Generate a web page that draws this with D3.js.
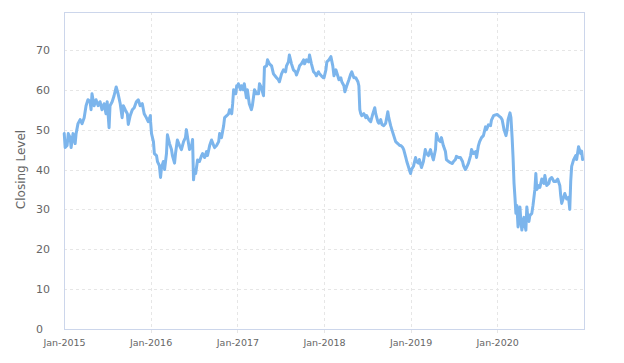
<!DOCTYPE html>
<html>
<head>
<meta charset="utf-8">
<script src="https://cdn.jsdelivr.net/npm/d3@7"></script>
<style>
  html, body { margin: 0; padding: 0; background: #fff; }
  svg { display: block; font-family: "DejaVu Sans", sans-serif; }
</style>
</head>
<body>
<svg id="chart" width="624" height="363"></svg>
<script>
// ---- data ----
const yAxisTitle = "Closing Level";
const yTicks = [0, 10, 20, 30, 40, 50, 60, 70];
const xTickYears = [2015, 2016, 2017, 2018, 2019, 2020];

const dates2015 = ["01-02","01-06","01-14","01-19","01-27","01-31","02-08","02-17","02-21","03-01","03-10","03-18","03-27","04-04","04-12","04-21","04-25","04-29","05-08","05-16","05-25","06-02","06-10","06-19","06-27","07-02","07-10","07-14","07-23","07-31","08-09","08-17","08-26","09-03","09-08","09-16","09-25","09-29","10-07","10-16","10-24","11-02","11-10","11-18","11-27","12-05","12-14","12-22","12-31"];
const values2015 = [49,45.5,46,49,48,45.5,49,46.5,49,51.5,52.5,51.5,53,56,57.5,57,55,59,56,57.5,56,57,55,56.5,54,57,50.5,56,57,58.5,60.7,59,56.5,53,56,55,54,51.3,53.5,55,55.5,57,57.5,56,56.5,54,53,52,53.5];

const dates2016 = ["01-01","01-05","01-13","01-17","01-26","01-30","02-07","02-12","02-16","02-24","02-29","03-08","03-12","03-21","03-29","04-02","04-11","04-15","04-23","05-02","05-10","05-19","05-27","05-31","06-05","06-13","06-22","06-26","06-30","07-04","07-09","07-17","07-25","08-03","08-07","08-16","08-24","08-28","09-06","09-14","09-23","09-27","10-05","10-14","10-18","10-26","11-04","11-08","11-17","11-25","11-29","12-08","12-12","12-16","12-25","12-29"];
const values2016 = [52,49,47,44,43.5,42,41,38,40.5,42,40,44,48.7,46.5,45,43.5,41.6,44,47.4,46,45,47,48,50,48,45,46,47.5,37.4,40,39,42.4,42,43.5,44,43,44.5,43.5,46,47.4,46,45.5,46,47,49,48,51,53,53.5,54,55,54,56.5,60,59,61];

const dates2017 = ["01-03","01-05","01-14","01-18","01-26","01-30","02-08","02-12","02-20","03-01","03-05","03-14","03-22","03-31","04-04","04-12","04-21","04-25","05-04","05-08","05-16","05-25","06-02","06-15","06-23","06-27","07-06","07-14","07-23","07-27","08-04","08-08","08-17","08-25","09-03","09-07","09-15","09-20","09-28","10-07","10-11","10-19","10-28","11-01","11-09","11-18","11-26","11-30","12-09","12-13","12-21","12-30"];
const values2017 = [61,61.5,60,61,60,61.5,58,60,56.5,55,56,60,59,59,61.5,60.5,58.5,65.7,66,67.5,66.5,66,64,63,62.5,62,64,65,64.5,66,67,68.7,66.5,65,64.5,63.7,65,66,66.5,67.5,66.5,67.5,67,68.7,66.5,64.5,64,63.5,64.5,64,63.5,63];

const dates2018 = ["01-01","01-09","01-13","01-22","01-30","02-07","02-12","02-20","02-28","03-05","03-13","03-17","03-26","03-30","04-07","04-16","04-24","04-28","05-07","05-15","05-24","05-28","06-01","06-05","06-09","06-18","06-26","06-30","07-09","07-17","07-26","08-03","08-07","08-16","08-20","08-28","09-02","09-10","09-18","09-27","10-01","10-09","10-14","10-22","10-30","11-08","11-16","11-21","11-29","12-03","12-12","12-16","12-24","12-29"];
const values2018 = [63,65,67,67.5,68.3,66,63.5,65,63.5,62.5,63,62,61,59.5,61,62.5,64,64.5,63,63,62,61,55,54,53.5,54,53,53.5,52.5,52,54,55.5,54,52,51.6,52.5,51.3,51,51.6,54.5,53,51,50,48.5,47,46.5,46,46,45.5,45,43,42,40.5,39.5];

const dates2019 = ["01-01","01-05","01-13","01-22","01-26","02-03","02-07","02-16","02-24","03-04","03-09","03-17","03-26","03-30","04-07","04-16","04-20","04-28","05-07","05-11","05-19","05-28","06-01","06-10","06-18","06-26","07-01","07-09","07-13","07-22","07-30","08-08","08-12","08-20","08-25","09-02","09-11","09-15","09-23","10-02","10-06","10-14","10-19","10-27","11-04","11-13","11-17","11-25","12-04","12-08","12-17","12-25"];
const values2019 = [39,40,40.8,43,42,41.6,42.5,40.5,42,45,44,43.5,45,44,42.4,45,49,47.5,47,48,46,44.5,42.5,42,41.7,41.5,42,42.5,43.3,43,43,42,41,40,40.5,41.6,43.5,45,44,44.5,43,46,47,48,48.5,50.7,50,51.2,51,52.4,53.5,53.7];

const dates2020 = ["01-01","01-09","01-17","01-22","01-30","02-07","02-12","02-16","02-24","02-28","03-04","03-08","03-12","03-16","03-20","03-24","03-29","04-02","04-06","04-10","04-14","04-19","04-23","04-27","05-01","05-05","05-10","05-14","05-18","05-26","05-31","06-04","06-08","06-12","06-16","06-25","06-29","07-07","07-16","07-20","07-28","08-06","08-10","08-18","08-27","09-04","09-12","09-21","09-25","09-29","10-07","10-12","10-20","10-28","11-02","11-06","11-10","11-18","11-27","12-01","12-09","12-18","12-22","12-26"];
const values2020 = [53.8,53.4,53,52.5,50,48.5,50,52.5,54.2,53,48,43,36.6,33,29,31,25.6,28,30.6,27,24.8,27,28,26,24.8,30.6,27.5,27,28.5,29,31,33,35,39,35,36,35.5,37.6,36.5,38.5,36,36.5,37.6,38,37,37,37.6,36,33.4,31.5,33,34,32.6,33,30,37,40.8,42.4,43.5,42.5,45.7,44,44.6,42.5];

// ---- build series ----
const yearTables = [
  [2015, dates2015, values2015], [2016, dates2016, values2016], [2017, dates2017, values2017],
  [2018, dates2018, values2018], [2019, dates2019, values2019], [2020, dates2020, values2020]
];
const parseDate = d3.timeParse("%Y-%m-%d");
const series = [];
yearTables.forEach(([yr, ds, vs]) => ds.forEach((d, i) => series.push({ date: parseDate(yr + "-" + d), value: vs[i] })));

// ---- layout ----
const svg = d3.select("#chart");
const plotL = 64, plotR = 584, plotT = 10, plotB = 329;

const x = d3.scaleTime()
  .domain([new Date(2015, 0, 1), new Date(2021, 0, 1)])
  .range([plotL, plotR]);
const y = d3.scaleLinear().domain([0, 80]).range([plotB, plotT]);

// horizontal grid
svg.append("g").selectAll("line").data(yTicks.slice(1)).join("line")
  .attr("x1", plotL).attr("x2", plotR)
  .attr("y1", d => Math.round(y(d)) + 0.5).attr("y2", d => Math.round(y(d)) + 0.5)
  .attr("stroke", "#e6e6e6").attr("stroke-width", 1).attr("stroke-dasharray", "3,3");

// vertical grid
const xTickDates = xTickYears.map(yr => new Date(yr, 0, 1));
svg.append("g").selectAll("line").data(xTickDates.slice(1)).join("line")
  .attr("x1", d => Math.round(x(d)) + 0.5).attr("x2", d => Math.round(x(d)) + 0.5)
  .attr("y1", plotT + 2).attr("y2", plotB + 4)
  .attr("stroke", "#e6e6e6").attr("stroke-width", 1).attr("stroke-dasharray", "3,3");

// plot frame
svg.append("rect")
  .attr("x", plotL + 0.5).attr("y", plotT + 2.5)
  .attr("width", plotR - plotL).attr("height", plotB - plotT - 2)
  .attr("fill", "none").attr("stroke", "#ccd6eb").attr("stroke-width", 1);

// x axis labels via d3 axis
const xAxis = d3.axisBottom(x).tickValues(xTickDates).tickFormat(d3.timeFormat("%b-%Y")).tickSize(0).tickPadding(10);
const gx = svg.append("g").attr("transform", `translate(0,${plotB})`).call(xAxis);
gx.select(".domain").remove();
gx.selectAll("text").attr("fill", "#666").attr("font-size", "9.5px").attr("font-family", "DejaVu Sans, sans-serif");

// y axis labels via d3 axis (left aligned at x=36)
const yAxis = d3.axisLeft(y).tickValues(yTicks).tickSize(0).tickPadding(0);
const gy = svg.append("g").attr("transform", "translate(36,0)").call(yAxis);
gy.select(".domain").remove();
gy.selectAll("text").attr("text-anchor", "start").attr("fill", "#666")
  .attr("font-size", "11px").attr("font-family", "DejaVu Sans, sans-serif");

// y axis title
svg.append("text")
  .attr("transform", `translate(25,${(plotT + plotB) / 2}) rotate(-90)`)
  .attr("text-anchor", "middle")
  .attr("fill", "#666").attr("font-size", "12px")
  .text(yAxisTitle);

// line
const line = d3.line().x(d => x(d.date)).y(d => y(d.value)).curve(d3.curveLinear);
svg.append("path").datum(series)
  .attr("d", line)
  .attr("fill", "none")
  .attr("stroke", "#7cb5ec")
  .attr("stroke-width", 3)
  .attr("stroke-linejoin", "round")
  .attr("stroke-linecap", "round");
</script>
</body>
</html>
